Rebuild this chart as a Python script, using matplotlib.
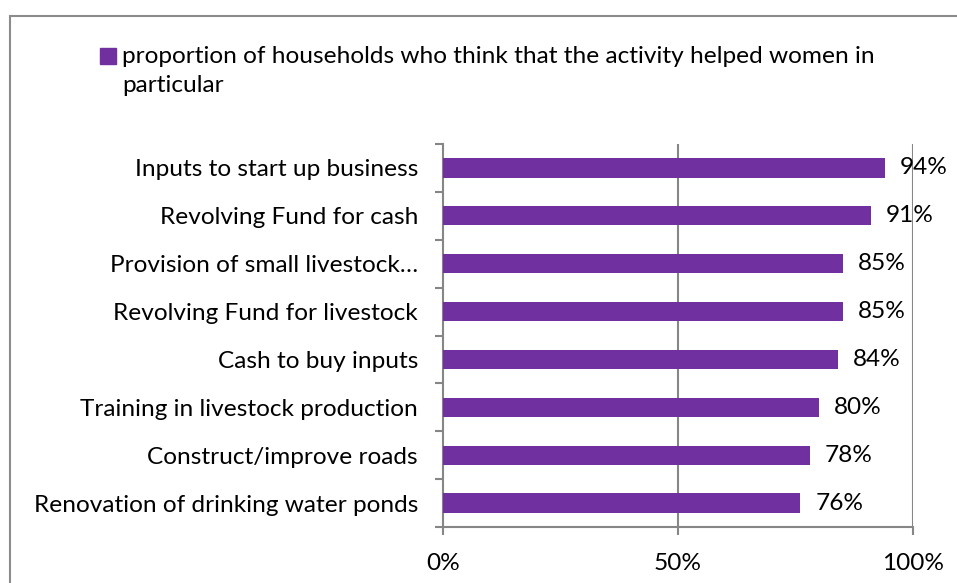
import matplotlib.pyplot as plt
from matplotlib.patches import Rectangle

# share of households per activity (top to bottom)
activities = [
    "Inputs to start up business",
    "Revolving Fund for cash",
    "Provision of small livestock\u2026",
    "Revolving Fund for livestock",
    "Cash to buy inputs",
    "Training in livestock production",
    "Construct/improve roads",
    "Renovation of drinking water ponds",
]
shares = [94, 91, 85, 85, 84, 80, 78, 76]
x_ticks = [0, 50, 100]
x_tick_labels = ["0%", "50%", "100%"]
legend_text = ("proportion of households who think that the activity helped women in\n"
               "particular")

purple = "#7030A0"
gray = "#868686"
fs = 17.6

plt.rcParams["font.family"] = ["Lato", "DejaVu Sans"]

fig = plt.figure(figsize=(9.57, 5.83), dpi=100)
ax = fig.add_axes([443 / 957, 1 - 527 / 583, 470 / 957, 383 / 583])

ypos = list(range(len(activities)))[::-1]
bars = ax.barh(ypos, shares, height=0.4, color=purple, zorder=3)
for b, v in zip(bars, shares):
    ax.text(b.get_width() + 3.2, b.get_y() + b.get_height() / 2, f"{v}%",
            va="center", ha="left", fontsize=fs, color="#000000", zorder=4)

ax.set_xlim(0, 100)
ax.set_ylim(-0.5, len(activities) - 0.5)

ax.set_xticks(x_ticks)
ax.set_xticklabels(x_tick_labels, fontsize=fs)
ax.set_yticks(ypos)
ax.set_yticklabels(activities, fontsize=fs)
ax.set_yticks([i - 0.5 for i in range(len(activities) + 1)], minor=True)

ax.tick_params(axis="y", which="major", length=0, pad=18)
ax.tick_params(axis="y", which="minor", length=6, width=1.5, color=gray)
ax.tick_params(axis="x", length=6, width=1.5, color=gray, pad=13)

for s in ["top", "right"]:
    ax.spines[s].set_visible(False)
for s in ["left", "bottom"]:
    ax.spines[s].set_color(gray)
    ax.spines[s].set_linewidth(1.5)

# vertical gridlines at 50% and 100%
for xv in x_ticks[1:]:
    ax.axvline(xv, color=gray, lw=1.5, zorder=1)

# legend entry
fig.patches.append(Rectangle((100 / 957, 1 - 64 / 583), 16 / 957, 16 / 583,
                             transform=fig.transFigure, color=purple))
fig.text(122 / 957, 1 - 46 / 583, legend_text, fontsize=fs, va="top",
         ha="left", linespacing=1.5)

# outer chart frame
fig.patches.append(Rectangle((10 / 957, -0.1), 2, 1.1 - 16 / 583,
                             transform=fig.transFigure, fill=False,
                             edgecolor="#8c8c8c", lw=1.5))

fig.savefig("out.png", dpi=100)
